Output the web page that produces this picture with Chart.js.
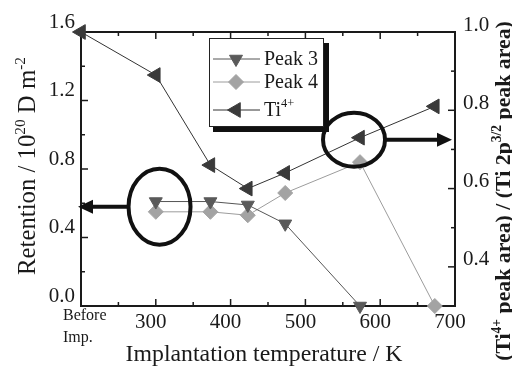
<!DOCTYPE html>
<html><head><meta charset="utf-8">
<script src="https://cdn.jsdelivr.net/npm/chart.js@4/dist/chart.umd.min.js"></script>
<style>html,body{margin:0;padding:0;background:#fff;overflow:hidden}canvas{display:block}</style>
</head><body>
<canvas id="c" width="512" height="366"></canvas>
<script>
// ---- data ----
const peakTemps = [300, 373, 423, 473, 573, 673];
const tiTemps = [200, 300, 373, 423, 473, 573, 673];
const peak3 = [0.61, 0.61, 0.59, 0.48, 0.0];
const peak4 = [0.55, 0.55, 0.53, 0.66, 0.84, 0.0];
const ti4 = [1.0, 0.89, 0.66, 0.60, 0.64, 0.73, 0.81];
const xTicks = [200, 300, 400, 500, 600, 700];
const xTickLabels = [['Before', 'Imp.'], '300', '400', '500', '600', '700'];
const leftTicks = [0.0, 0.4, 0.8, 1.2, 1.6];
const rightTicks = [0.4, 0.6, 0.8, 1.0];
const seriesNames = ['Peak 3', 'Peak 4', 'Ti'];

const SERIF = "'Liberation Serif', 'Times New Roman', Times, serif";
const INK = '#1a1a1a';
Chart.defaults.font.family = SERIF;

function pts(xs, ys) { return ys.map((v, i) => ({ x: xs[i], y: v })); }

function segWidth(ctx, segs, size, weight) {
  let w = 0;
  for (const s of segs) {
    ctx.font = `${weight} ${s.sup ? size * 0.62 : size}px ${SERIF}`;
    w += ctx.measureText(s.t).width;
  }
  return w;
}
function drawRich(ctx, segs, cx, cy, size, weight, angle, align) {
  ctx.save();
  ctx.translate(cx, cy);
  ctx.rotate(angle);
  ctx.fillStyle = INK;
  ctx.textBaseline = 'alphabetic';
  ctx.textAlign = 'left';
  const w = segWidth(ctx, segs, size, weight);
  let x = align === 'left' ? 0 : -w / 2;
  const base = size * 0.33;
  for (const s of segs) {
    const fs = s.sup ? size * 0.62 : size;
    ctx.font = `${weight} ${fs}px ${SERIF}`;
    ctx.fillText(s.t, x, s.sup ? base - size * 0.42 : base);
    x += ctx.measureText(s.t).width;
  }
  ctx.restore();
}
function fitSize(ctx, segs, target, weight) {
  return 20 * target / segWidth(ctx, segs, 20, weight);
}

const decor = {
  id: 'decor',
  beforeDatasetsDraw(chart) {
    const { ctx, chartArea: a, scales: { x, y, y2 } } = chart;
    ctx.save();
    ctx.strokeStyle = INK;
    ctx.lineWidth = 1.5;
    const line = (x1, y1, x2, y2_) => { ctx.beginPath(); ctx.moveTo(x1, y1); ctx.lineTo(x2, y2_); ctx.stroke(); };
    for (let v = x.min + 50; v < x.max; v += 50) {
      const p = x.getPixelForValue(v), L = (v % 100 === 0) ? 7 : 4;
      line(p, a.bottom, p, a.bottom - L);
      line(p, a.top, p, a.top + L);
    }
    for (let v = 0.2; v < y.max - 0.01; v += 0.2) {
      const p = y.getPixelForValue(v), major = Math.abs(v / 0.4 - Math.round(v / 0.4)) < 0.01;
      line(a.left, p, a.left + (major ? 7 : 4), p);
    }
    for (let v = 0.4; v < y2.max - 0.01; v += 0.1) {
      const p = y2.getPixelForValue(v), major = Math.abs(v / 0.2 - Math.round(v / 0.2)) < 0.01;
      line(a.right, p, a.right - (major ? 7 : 4), p);
    }
    ctx.lineWidth = 2;
    ctx.strokeRect(a.left, a.top, a.right - a.left, a.bottom - a.top);
    ctx.restore();
  },
  afterDraw(chart) {
    const { ctx, chartArea: a, scales: { x, y, y2 } } = chart;
    ctx.save();
    ctx.fillStyle = INK;
    ctx.font = `16px ${SERIF}`;
    ctx.textAlign = 'left';
    ctx.textBaseline = 'middle';
    const bx = x.getPixelForValue(xTicks[0]) - 18;
    ctx.fillText(xTickLabels[0][0], bx, a.bottom + 10);
    ctx.fillText(xTickLabels[0][1], bx, a.bottom + 32);

    const leftT = [{ t: 'Retention / 10' }, { t: '20', sup: 1 }, { t: ' D m' }, { t: '-2', sup: 1 }];
    drawRich(ctx, leftT, 27, 166, fitSize(ctx, leftT, 218, 'normal'), 'normal', -Math.PI / 2);
    const botT = [{ t: 'Implantation temperature / K' }];
    drawRich(ctx, botT, 264, 353, fitSize(ctx, botT, 277, 'normal'), 'normal', 0);
    const rightT = [{ t: '(Ti' }, { t: '4+', sup: 1 }, { t: ' peak area) / (Ti 2p' }, { t: '3/2', sup: 1 }, { t: ' peak area)' }];
    drawRich(ctx, rightT, 503, 191, fitSize(ctx, rightT, 340, 'bold'), 'bold', -Math.PI / 2);

    ctx.strokeStyle = '#111';
    ctx.fillStyle = '#111';
    ctx.lineWidth = 4;
    const ell = (cx, cy, rx, ry) => { ctx.beginPath(); ctx.ellipse(cx, cy, rx, ry, 0, 0, Math.PI * 2); ctx.stroke(); };
    const arrow = (x1, yy, x2) => {
      const dir = Math.sign(x2 - x1), head = 15;
      ctx.lineWidth = 4;
      ctx.beginPath(); ctx.moveTo(x1, yy); ctx.lineTo(x2 - dir * head, yy); ctx.stroke();
      ctx.beginPath(); ctx.moveTo(x2, yy); ctx.lineTo(x2 - dir * head, yy - 7); ctx.lineTo(x2 - dir * head, yy + 7); ctx.closePath(); ctx.fill();
    };
    const lcx = x.getPixelForValue(305), lcy = y.getPixelForValue(0.58);
    ell(lcx, lcy, 31, 38);
    arrow(lcx - 31, lcy, a.left - 3);
    const rcx = x.getPixelForValue(565), rcy = y2.getPixelForValue(0.725);
    ell(rcx, rcy, 31, 27);
    arrow(rcx + 31, rcy, a.right - 3);

    const L = { l: 209, t: 38, r: 324, b: 127 };
    ctx.fillStyle = '#111';
    ctx.fillRect(L.r, L.t + 5, 5, L.b - L.t);
    ctx.fillRect(L.l + 4, L.b, L.r - L.l + 1, 5);
    ctx.fillStyle = '#fff';
    ctx.fillRect(L.l, L.t, L.r - L.l, L.b - L.t);
    ctx.strokeStyle = '#222';
    ctx.lineWidth = 1;
    ctx.strokeRect(L.l + 0.5, L.t + 0.5, L.r - L.l - 1, L.b - L.t - 1);
    const rows = [59, 82, 110];
    chart.data.datasets.forEach((ds, i) => {
      const ry = rows[i];
      ctx.strokeStyle = ds.borderColor;
      ctx.lineWidth = 1;
      ctx.beginPath(); ctx.moveTo(213, ry); ctx.lineTo(260, ry); ctx.stroke();
      ctx.fillStyle = ds.pointBackgroundColor;
      ctx.strokeStyle = ds.pointBorderColor;
      Chart.helpers.drawPoint(ctx, { pointStyle: ds.pointStyle, rotation: ds.rotation, radius: ds.pointRadius, borderWidth: 1 }, 236, ry);
      const segs = i === 2 ? [{ t: seriesNames[2] }, { t: '4+', sup: 1 }] : [{ t: seriesNames[i] }];
      drawRich(ctx, segs, 264, ry - 1, 20, 'normal', 0, 'left');
    });
    ctx.restore();
  }
};

function build() {
  new Chart(document.getElementById('c'), {
    type: 'scatter',
    data: {
      datasets: [
        { label: 'Peak 3', data: pts(peakTemps, peak3), yAxisID: 'y', showLine: true,
          borderColor: '#555', borderWidth: 1, pointStyle: 'triangle', rotation: 180, pointRadius: 7.5,
          pointBackgroundColor: '#5a5a5a', pointBorderColor: '#5a5a5a', clip: false },
        { label: 'Peak 4', data: pts(peakTemps, peak4), yAxisID: 'y', showLine: true,
          borderColor: '#9c9c9c', borderWidth: 1, pointStyle: 'rectRot', rotation: 0, pointRadius: 7.5,
          pointBackgroundColor: '#a3a3a3', pointBorderColor: '#a3a3a3', clip: false },
        { label: 'Ti4+', data: pts(tiTemps, ti4), yAxisID: 'y2', showLine: true,
          borderColor: '#333', borderWidth: 1, pointStyle: 'triangle', rotation: 270, pointRadius: 8.5,
          pointBackgroundColor: '#3a3a3a', pointBorderColor: '#3a3a3a', clip: false }
      ]
    },
    options: {
      responsive: false,
      animation: false,
      layout: { padding: { top: 32, left: 0, right: 0, bottom: 0 } },
      plugins: { legend: { display: false }, tooltip: { enabled: false } },
      scales: {
        x: {
          type: 'linear', min: 200, max: 700,
          afterBuildTicks: s => { s.ticks = xTicks.map(v => ({ value: v })); },
          afterFit: s => { s.height = 60; },
          grid: { display: false, drawTicks: false }, border: { display: false },
          ticks: { color: INK, padding: 4, labelOffset: -5, maxRotation: 0, autoSkip: false,
            font: { family: SERIF, size: 21 },
            callback: (v) => { const i = xTicks.indexOf(v); return i > 0 ? xTickLabels[i] : ''; } }
        },
        y: {
          position: 'left', min: 0, max: 1.6,
          afterBuildTicks: s => { s.ticks = leftTicks.map(v => ({ value: v })); },
          afterFit: s => { s.width = 81; },
          grid: { display: false, drawTicks: false }, border: { display: false },
          ticks: { color: INK, padding: 6, labelOffset: -10, autoSkip: false,
            font: { family: SERIF, size: 21 }, callback: v => v.toFixed(1) }
        },
        y2: {
          position: 'right', min: 0.3, max: 1.0,
          afterBuildTicks: s => { s.ticks = rightTicks.map(v => ({ value: v })); },
          afterFit: s => { s.width = 57; },
          grid: { display: false, drawTicks: false }, border: { display: false },
          ticks: { color: INK, padding: 8, labelOffset: -7, autoSkip: false,
            font: { family: SERIF, size: 21 }, callback: v => v.toFixed(1) }
        }
      }
    },
    plugins: [decor]
  });
}

Promise.all([
  document.fonts.load("21px 'Liberation Serif'"),
  document.fonts.load("bold 18px 'Liberation Serif'")
]).then(build, build);
</script>
</body></html>
